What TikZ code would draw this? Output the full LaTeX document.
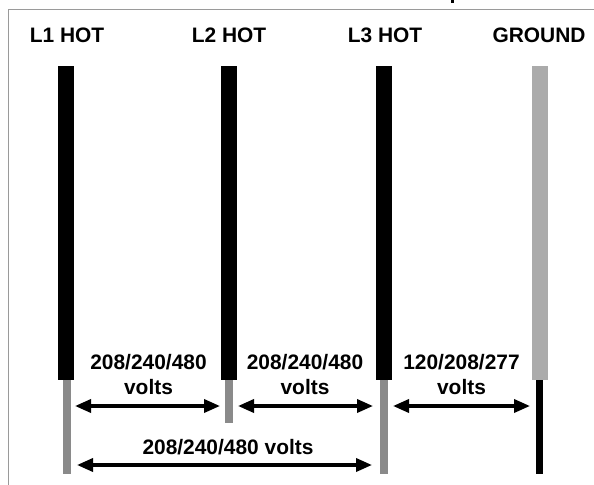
\documentclass[tikz,border=0pt]{standalone}
\usepackage{fontspec}
\setmainfont{Liberation Sans}
\usetikzlibrary{arrows.meta}
\definecolor{lowgray}{HTML}{8A8A8A}
\definecolor{gndgray}{HTML}{ABABAB}
\definecolor{framegray}{HTML}{9A9A9A}
\tikzset{
  lbl/.style={font=\fontsize{21}{24}\selectfont\bfseries, anchor=base, inner sep=0pt},
  dim/.style={line width=3.5bp, {Triangle[length=16bp,width=13bp]}-{Triangle[length=16bp,width=13bp]}, shorten <=0pt, shorten >=0pt},
  hotwire/.style={fill=black},
  lowwire/.style={fill=lowgray},
  gndwire/.style={fill=gndgray},
}
\begin{document}
\begin{tikzpicture}[x=1bp,y=-1bp]
\useasboundingbox (0,0) rectangle (594,485);
% frame
\draw[framegray, line width=1bp] (8,485) -- (8,10) -- (594,10);
\fill (451,0) rectangle (454,3);
% headers
\node[lbl] (h1) at (67,43) {L1 HOT};
\node[lbl] (h2) at (229,43) {L2 HOT};
\node[lbl] (h3) at (385,43) {L3 HOT};
\node[lbl] (h4) at (539,43) {GROUND};
% wires
\fill[hotwire] (58,66) rectangle (74,380);
\fill[lowwire] (63,380) rectangle (71,474);
\fill[hotwire] (221,66) rectangle (237,380);
\fill[lowwire] (225,380) rectangle (233,423);
\fill[hotwire] (376,66) rectangle (392,380);
\fill[lowwire] (380,380) rectangle (388,474);
\fill[gndwire] (531.5,66) rectangle (547.5,380);
\fill[black] (536,380) rectangle (543,474);
% arrow ends
\coordinate (a1l) at (75,406);
\coordinate (a1r) at (220,406);
\coordinate (a2l) at (238,406);
\coordinate (a2r) at (373,406);
\coordinate (a3l) at (393,406);
\coordinate (a3r) at (530,406);
\coordinate (a4l) at (77,465);
\coordinate (a4r) at (372,465);
\draw[dim] (a1l) -- (a1r);
\draw[dim] (a2l) -- (a2r);
\draw[dim] (a3l) -- (a3r);
\draw[dim] (a4l) -- (a4r);
% labels
\node[lbl] (t1) at (148.5,369) {208/240/480};
\node[lbl] (v1) at (148.5,394) {volts};
\node[lbl] (t2) at (305,369) {208/240/480};
\node[lbl] (v2) at (305,394) {volts};
\node[lbl] (t3) at (461.5,369) {120/208/277};
\node[lbl] (v3) at (461.5,394) {volts};
\node[lbl] (t4) at (228,454) {208/240/480 volts};
\end{tikzpicture}
\end{document}
